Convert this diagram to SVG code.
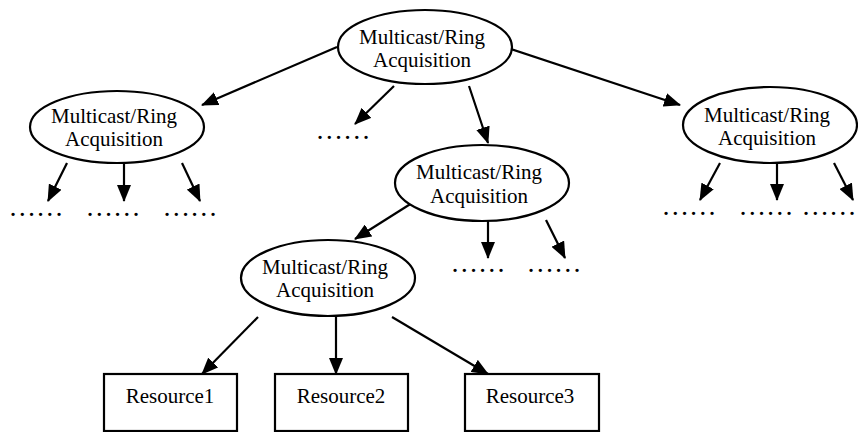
<svg xmlns="http://www.w3.org/2000/svg" width="858" height="432" viewBox="0 0 858 432">
<defs>
<marker id="ah" markerWidth="17" markerHeight="14" refX="16" refY="7" orient="auto" markerUnits="userSpaceOnUse">
<path d="M0,0 L17,7 L0,14 Z" fill="#000"/>
</marker>
<style>
.n{fill:#fff;stroke:#000;stroke-width:2.2}
.t{font-family:"Liberation Serif","Times New Roman",serif;font-size:21px;fill:#000;text-anchor:middle}
.d{font-family:"Liberation Serif","Times New Roman",serif;font-size:27.6px;fill:#000;text-anchor:middle}
.c line{stroke:#000;stroke-width:2.2;marker-end:url(#ah)}
</style>
</defs>
<rect width="858" height="432" fill="#fff"/>
<g class="c" id="connectors">
<line x1="337" y1="47" x2="202" y2="105"/>
<line x1="394" y1="86" x2="355" y2="124"/>
<line x1="469" y1="86" x2="488" y2="143"/>
<line x1="508" y1="48" x2="680" y2="105"/>
<line x1="67" y1="163" x2="48" y2="201"/>
<line x1="124" y1="164" x2="124" y2="201"/>
<line x1="182" y1="163" x2="200" y2="201"/>
<line x1="720" y1="163" x2="700" y2="200"/>
<line x1="777" y1="163" x2="777" y2="200"/>
<line x1="834" y1="163" x2="853" y2="200"/>
<line x1="412" y1="203" x2="355" y2="239"/>
<line x1="488" y1="221" x2="488" y2="258"/>
<line x1="546" y1="220" x2="565" y2="258"/>
<line x1="258" y1="317" x2="202" y2="374"/>
<line x1="336" y1="317" x2="336" y2="374"/>
<line x1="392" y1="317" x2="488" y2="374"/>
</g>
<g id="n-top"><ellipse class="n" cx="425" cy="47" rx="87" ry="37"/><text class="t" x="422" y="44">Multicast/Ring</text><text class="t" x="422" y="67">Acquisition</text></g>
<g id="n-left"><ellipse class="n" cx="117" cy="127" rx="87" ry="36"/><text class="t" x="114" y="123">Multicast/Ring</text><text class="t" x="114" y="146">Acquisition</text></g>
<g id="n-right"><ellipse class="n" cx="770" cy="125" rx="87" ry="38"/><text class="t" x="767" y="122">Multicast/Ring</text><text class="t" x="767" y="145">Acquisition</text></g>
<g id="n-center"><ellipse class="n" cx="482" cy="183" rx="87" ry="38"/><text class="t" x="479" y="179">Multicast/Ring</text><text class="t" x="479" y="203">Acquisition</text></g>
<g id="n-lowleft"><ellipse class="n" cx="328" cy="278" rx="87" ry="38"/><text class="t" x="325" y="274">Multicast/Ring</text><text class="t" x="325" y="297">Acquisition</text></g>
<g id="r1"><rect class="n" x="104" y="374" width="133" height="57"/><text class="t" x="170" y="403">Resource1</text></g>
<g id="r2"><rect class="n" x="275" y="374" width="133" height="57"/><text class="t" x="341" y="403">Resource2</text></g>
<g id="r3"><rect class="n" x="465" y="374" width="134" height="57"/><text class="t" x="530" y="403">Resource3</text></g>
<g id="dots">
<text class="d" x="36" y="216">……</text>
<text class="d" x="113" y="216">……</text>
<text class="d" x="190" y="216">……</text>
<text class="d" x="343" y="139">……</text>
<text class="d" x="478" y="272">……</text>
<text class="d" x="554" y="272">……</text>
<text class="d" x="689" y="215">……</text>
<text class="d" x="766" y="215">……</text>
<text class="d" x="829" y="215">……</text>
</g>
</svg>
